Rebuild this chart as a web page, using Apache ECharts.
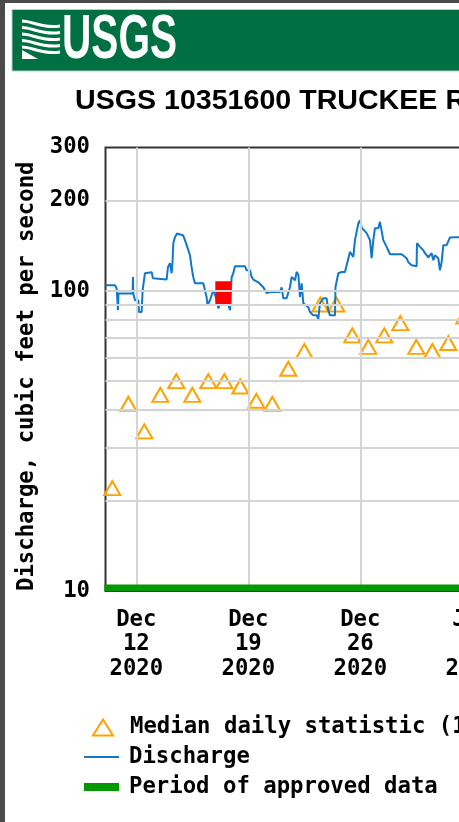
<!DOCTYPE html>
<html>
<head>
<meta charset="utf-8">
<title>USGS 10351600 Truckee River</title>
<script src="https://cdn.jsdelivr.net/npm/echarts@6/dist/echarts.min.js"></script>
<style>
  html, body { margin: 0; padding: 0; background: #fff; overflow: hidden; }
  #chart { width: 616px; height: 822px; }
</style>
</head>
<body>
<div id="chart"></div>
<script>
// discharge, cfs -- 15 minute record thinned down to the turning points
const dischargeTimes = [
  '2020-12-10 02:00', '2020-12-10 16:00', '2020-12-10 18:30', '2020-12-10 20:30', '2020-12-10 21:15',
  '2020-12-11 18:30', '2020-12-11 19:00', '2020-12-11 19:30', '2020-12-11 22:00', '2020-12-12 03:00',
  '2020-12-12 04:00', '2020-12-12 08:00', '2020-12-12 09:30', '2020-12-12 13:00', '2020-12-12 16:00',
  '2020-12-12 23:00', '2020-12-13 01:00', '2020-12-13 04:00', '2020-12-13 21:30', '2020-12-13 23:30',
  '2020-12-14 02:30', '2020-12-14 05:00', '2020-12-14 06:15', '2020-12-14 07:30', '2020-12-14 10:00',
  '2020-12-14 13:00', '2020-12-14 22:00', '2020-12-15 01:00', '2020-12-15 06:00', '2020-12-15 08:30',
  '2020-12-15 11:00', '2020-12-15 13:30', '2020-12-15 16:00', '2020-12-16 04:30', '2020-12-16 07:00',
  '2020-12-16 09:30', '2020-12-16 10:45', '2020-12-16 14:30', '2020-12-16 19:30', '2020-12-16 23:30',
  '2020-12-17 03:00', '2020-12-17 08:30', '2020-12-17 14:30', '2020-12-17 20:30', '2020-12-17 23:00',
  '2020-12-18 01:30', '2020-12-18 04:00', '2020-12-18 19:00', '2020-12-18 21:30', '2020-12-19 02:30',
  '2020-12-19 05:00', '2020-12-19 07:30', '2020-12-19 15:00', '2020-12-19 17:30', '2020-12-19 22:30',
  '2020-12-20 03:30', '2020-12-20 08:30', '2020-12-20 23:30', '2020-12-21 02:00', '2020-12-21 04:30',
  '2020-12-21 09:30', '2020-12-21 14:30', '2020-12-21 17:00', '2020-12-21 22:00', '2020-12-22 00:30',
  '2020-12-22 03:00', '2020-12-22 05:30', '2020-12-22 08:00', '2020-12-22 10:30', '2020-12-22 13:00',
  '2020-12-22 18:00', '2020-12-22 20:30', '2020-12-23 01:30', '2020-12-23 06:30', '2020-12-23 09:00',
  '2020-12-23 11:30', '2020-12-23 16:30', '2020-12-23 21:30', '2020-12-24 00:00', '2020-12-24 02:30',
  '2020-12-24 10:00', '2020-12-24 10:45', '2020-12-24 15:00', '2020-12-24 20:00', '2020-12-25 01:00',
  '2020-12-25 03:30', '2020-12-25 06:00', '2020-12-25 08:30', '2020-12-25 11:00', '2020-12-25 13:30',
  '2020-12-25 16:00', '2020-12-25 21:00', '2020-12-25 23:30', '2020-12-26 02:30', '2020-12-26 05:30',
  '2020-12-26 09:30', '2020-12-26 14:30', '2020-12-26 17:00', '2020-12-26 19:30', '2020-12-26 22:00',
  '2020-12-27 03:00', '2020-12-27 05:30', '2020-12-27 08:00', '2020-12-27 10:30', '2020-12-27 15:30',
  '2020-12-27 20:30', '2020-12-28 14:00', '2020-12-28 16:30', '2020-12-28 21:30', '2020-12-29 00:00',
  '2020-12-29 05:00', '2020-12-29 12:30', '2020-12-29 13:00', '2020-12-29 17:30', '2020-12-29 22:30',
  '2020-12-30 01:00', '2020-12-30 06:00', '2020-12-30 11:00', '2020-12-30 13:30', '2020-12-30 16:00',
  '2020-12-30 21:00', '2020-12-30 23:30', '2020-12-31 02:00', '2020-12-31 04:30', '2020-12-31 09:30',
  '2020-12-31 14:30', '2020-12-31 22:00', '2021-01-01 08:30'
];
const dischargeValues = [
  104.3, 104.3, 101.9, 86.1, 97.9,
  97.9, 111.2, 97.9, 93.0, 93.0,
  85.0, 85.0, 100.4, 114.4, 115.3,
  115.3, 110.1, 109.0, 109.0, 120.0,
  123.5, 114.4, 123.5, 144.0, 150.8,
  155.1, 153.1, 147.4, 136.5, 131.3,
  119.7, 110.9, 105.9, 105.9, 100.4,
  95.1, 89.5, 93.0, 100.4, 95.1,
  87.4, 93.0, 95.9, 86.1, 110.9,
  114.4, 120.7, 120.7, 117.0, 117.0,
  111.2, 109.0, 106.7, 105.9, 102.7,
  98.3, 99.1, 99.1, 102.7, 94.4,
  94.4, 102.7, 111.2, 108.4, 115.5,
  113.5, 95.3, 105.9, 90.9, 90.9,
  88.1, 85.0, 82.8, 82.8, 80.4,
  90.9, 94.4, 94.4, 86.1, 82.8,
  82.8, 102.7, 114.4, 115.5, 115.5,
  121.6, 121.6, 134.7, 136.5, 129.6,
  147.4, 167.5, 171.8, 161.6, 159.1,
  155.5, 147.4, 128.3, 147.4, 161.6,
  161.6, 169.6, 169.6, 147.4, 140.0,
  132.3, 132.3, 130.3, 128.3, 124.5,
  121.6, 120.7, 144.0, 140.0, 136.5,
  133.4, 129.3, 133.4, 126.4, 131.3,
  128.3, 117.0, 124.5, 141.8, 141.8,
  150.5, 150.8, 150.8
];

// red flagged stretch of the record
const flaggedTimes = ['2020-12-16 22:30', '2020-12-17 22:30'];
const flaggedValues = [98.1, 98.1];

// median daily statistic, plotted at noon of each day
const medianDays = [
  '2020-12-10', '2020-12-11', '2020-12-12', '2020-12-13', '2020-12-14', '2020-12-15',
  '2020-12-16', '2020-12-17', '2020-12-18', '2020-12-19', '2020-12-20', '2020-12-21',
  '2020-12-22', '2020-12-23', '2020-12-24', '2020-12-25', '2020-12-26', '2020-12-27',
  '2020-12-28', '2020-12-29', '2020-12-30', '2020-12-31', '2021-01-01'
];
const medianValues = [22, 42, 34, 45, 50, 45, 50, 50, 48, 43, 42, 55, 63, 90, 90, 71, 65, 71, 78, 65, 63, 67, 82];

// approved data period
const approvedPeriod = ['2020-12-10 00:00', '2021-01-09 01:48'];

// axes
const xMin = '2020-12-10 01:48';
const xMax = '2021-01-09 01:48';
const xTickDates = ['2020-12-12 00:00', '2020-12-19 00:00', '2020-12-26 00:00', '2021-01-02 00:00'];
const yTickLabels = [10, 100, 200, 300];
const yGridValues = [20, 30, 40, 50, 60, 70, 80, 90, 100, 200];
const months = ['Jan', 'Feb', 'Mar', 'Apr', 'May', 'Jun', 'Jul', 'Aug', 'Sep', 'Oct', 'Nov', 'Dec'];

const t = s => new Date(s.length === 10 ? s + 'T12:00' : s.replace(' ', 'T')).getTime();

const monoFont = { fontFamily: 'DejaVu Sans Mono', fontWeight: 'bold', fontSize: 22.3, color: '#000' };
const gridGray = '#d4d4d4';
const medianName = 'Median daily statistic (101 years)';

// wave lines of the logo
const waves = [21, 27.5, 34, 40.5, 47].map(y => ({
  type: 'bezierCurve', silent: true,
  shape: { x1: 22, y1: y, cpx1: 33, cpy1: y, cpx2: 42, cpy2: y + 8, x2: 60, y2: y + 5 },
  style: { fill: null, stroke: '#fff', lineWidth: 3 }
}));

let myCharts = echarts.init(document.getElementById('chart'), null, { renderer: 'canvas' });

let options = {
  animation: false,
  backgroundColor: '#fff',
  graphic: [
    // outer frame
    { type: 'rect', shape: { x: 0, y: 0, width: 5, height: 822 }, style: { fill: '#4b4b4b' }, silent: true },
    { type: 'rect', shape: { x: 0, y: 0, width: 616, height: 3 }, style: { fill: '#4b4b4b' }, silent: true },
    // banner
    { type: 'rect', shape: { x: 12, y: 9.5, width: 620, height: 61.5 }, style: { fill: '#006f41', stroke: '#b9cfc3', lineWidth: 1 }, silent: true }
  ].concat(waves).concat([
    { type: 'polygon', shape: { points: [[22, 50], [22, 59], [38, 59]] }, style: { fill: '#fff' }, silent: true },
    { type: 'text', x: 62, y: 41, scaleX: 0.645, style: { text: 'USGS', font: 'bold 63px "Liberation Sans"', fill: '#fff', verticalAlign: 'middle' }, silent: true },
    // title
    { type: 'text', x: 75, y: 101, scaleX: 1.04, style: { text: 'USGS 10351600 TRUCKEE RV BLW DERBY DAM NR WADSWORTH, NV', font: 'bold 27.5px "Liberation Sans"', fill: '#000', verticalAlign: 'middle' }, silent: true }
  ]),
  grid: {
    left: 105.5, top: 147.5, width: 480, height: 443.5,
    show: true, borderColor: '#333', borderWidth: 2, backgroundColor: 'transparent',
    outerBoundsMode: 'none'
  },
  legend: [
    {
      left: 92, top: 716.5, padding: 0, itemWidth: 20, itemHeight: 16,
      data: [medianName],
      itemStyle: { opacity: 1 },
      textStyle: Object.assign({ lineHeight: 22, padding: [0, 0, 0, 12] }, monoFont)
    },
    {
      left: 84, top: 746, padding: 0, itemWidth: 35, itemHeight: 2,
      data: [{ name: 'Discharge', icon: 'rect' }],
      textStyle: Object.assign({ lineHeight: 22, padding: [0, 0, 0, 5] }, monoFont)
    },
    {
      left: 84, top: 776, padding: 0, itemWidth: 35, itemHeight: 8,
      data: [{ name: 'Period of approved data', icon: 'rect' }],
      textStyle: Object.assign({ lineHeight: 22, padding: [0, 0, 0, 5] }, monoFont)
    }
  ],
  xAxis: {
    type: 'value',
    min: t(xMin), max: t(xMax),
    axisLine: { show: false }, axisTick: { show: false }, splitLine: { show: false },
    axisLabel: Object.assign({
      customValues: xTickDates.map(t),
      margin: 16.5, lineHeight: 24.5, align: 'center',
      formatter: v => { const d = new Date(v); return months[d.getMonth()] + '\n' + d.getDate() + '\n' + d.getFullYear(); }
    }, monoFont)
  },
  yAxis: {
    type: 'log', logBase: 10, min: 10, max: 300,
    axisLine: { show: false }, axisTick: { show: false }, splitLine: { show: false },
    axisLabel: Object.assign({ customValues: yTickLabels, margin: 15.5, padding: [4, 0, 0, 0] }, monoFont),
    name: 'Discharge, cubic feet per second',
    nameLocation: 'middle', nameGap: 67,
    nameTextStyle: Object.assign({ padding: [0, 14, 0, 0] }, monoFont)
  },
  series: [
    {
      name: 'gridlines', type: 'line', data: [], z: 1, silent: true,
      markLine: {
        silent: true, symbol: ['none', 'none'], label: { show: false }, animation: false,
        lineStyle: { type: 'solid', color: gridGray, width: 2 },
        emphasis: { disabled: true },
        data: yGridValues.map(v => ({ yAxis: v })).concat(xTickDates.map(d => ({ xAxis: t(d) })))
      }
    },
    {
      name: medianName, type: 'scatter', z: 2,
      symbol: 'triangle', symbolSize: [16, 14],
      itemStyle: { color: 'rgba(255,255,255,0)', borderColor: '#ffa200', borderWidth: 2, opacity: 1 },
      data: medianDays.map((d, i) => [t(d), medianValues[i]])
    },
    {
      name: 'Discharge', type: 'line', z: 3, showSymbol: false, symbol: 'none',
      lineStyle: { color: '#0f78cc', width: 2 }, itemStyle: { color: '#0f78cc' },
      data: dischargeTimes.map((d, i) => [t(d), dischargeValues[i]])
    },
    {
      name: 'Flagged', type: 'line', z: 4, showSymbol: false, symbol: 'none',
      lineStyle: { color: '#ff0000', width: 24, cap: 'butt' },
      data: flaggedTimes.map((d, i) => [t(d), flaggedValues[i]])
    },
    {
      name: 'Period of approved data', type: 'custom', z: 5,
      itemStyle: { color: '#009a00' },
      encode: { x: [0, 1], y: 2 },
      data: [[t(approvedPeriod[0]), t(approvedPeriod[1]), 10]],
      renderItem: (params, api) => {
        const p0 = api.coord([api.value(0), api.value(2)]);
        const p1 = api.coord([api.value(1), api.value(2)]);
        return { type: 'rect', shape: { x: p0[0], y: p0[1] - 6.5, width: p1[0] - p0[0], height: 6.5 }, style: { fill: '#009a00' } };
      }
    }
  ]
};
myCharts.setOption(options);
</script>
</body>
</html>
